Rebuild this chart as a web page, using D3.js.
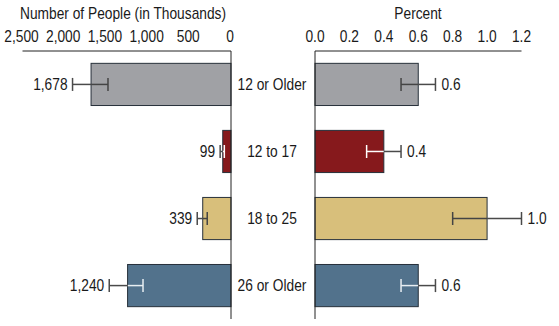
<!DOCTYPE html>
<html>
<head>
<meta charset="utf-8">
<script src="https://cdn.jsdelivr.net/npm/d3@7"></script>
<style>
  html, body { margin: 0; padding: 0; background: #fff; }
  svg text { font-family: "Liberation Sans", Arial, sans-serif; font-size: 16px; fill: #1a1a1a; }
</style>
</head>
<body>
<svg id="chart" width="559" height="326"></svg>
<script>
// Age groups shown as rows
const categories = ["12 or Older", "12 to 17", "18 to 25", "26 or Older"];
// Number of people (thousands) with confidence interval bounds
const counts = [1678, 99, 339, 1240];
const countLow = [1475, 80, 285, 1055];
const countHigh = [1900, 130, 405, 1460];
// Percent of population with confidence interval bounds
const percents = [0.6, 0.4, 1.0, 0.6];
const percentLow = [0.5, 0.3, 0.8, 0.5];
const percentHigh = [0.7, 0.5, 1.2, 0.7];
// Tick values
const countTicks = [0, 500, 1000, 1500, 2000, 2500];
const percentTicks = [0, 0.2, 0.4, 0.6, 0.8, 1.0, 1.2];

const barColors = ["#A0A1A5", "#86191C", "#D8BF7B", "#52728C"];
const innerErrColors = ["#444", "#fff", "#444", "#e8eef2"];

const svg = d3.select("#chart");
const axisTop = 51, axisBottom = 319;
const squeeze = 0.86; // condensed lettering

// Text drawn with a horizontal squeeze around its anchor point
function label(g, x, yPos, str, anchor, dy) {
  return g.append("text")
    .attr("transform", `translate(${x},${yPos}) scale(${squeeze},1)`)
    .attr("text-anchor", anchor || "middle")
    .attr("dy", dy || 0)
    .text(str);
}

const y = d3.scaleBand().domain(categories).range([axisTop, axisBottom])
  .paddingInner(0.371).paddingOuter(0.184);

const xL = d3.scaleLinear().domain([0, 2500]).range([231, 22.5]);
const xR = d3.scaleLinear().domain([0, 1.2]).range([315, 521.5]);

const fmtCount = d3.format(",");
const fmtPct = d3.format(".1f");

// Titles
label(svg, 123, 18.5, "Number of People (in Thousands)");
label(svg, 418, 18.5, "Percent");

// Tick labels
const tg = svg.append("g");
countTicks.forEach(d => label(tg, xL(d) - 1, 41.5, fmtCount(d)));
percentTicks.forEach(d => label(tg, xR(d), 41.5, fmtPct(d)));

// Bars
const rows = categories.map((c, i) => ({c, i}));
svg.append("g").selectAll("rect").data(rows).join("rect")
  .attr("x", d => xL(counts[d.i])).attr("y", d => y(d.c))
  .attr("width", d => xL(0) - xL(counts[d.i])).attr("height", y.bandwidth())
  .attr("fill", d => barColors[d.i]).attr("stroke", "#27303a").attr("stroke-width", 1);
svg.append("g").selectAll("rect").data(rows).join("rect")
  .attr("x", xR(0)).attr("y", d => y(d.c))
  .attr("width", d => xR(percents[d.i]) - xR(0)).attr("height", y.bandwidth())
  .attr("fill", d => barColors[d.i]).attr("stroke", "#27303a").attr("stroke-width", 1);

// Error bars: part inside the bar and part outside
function errorBar(g, x, v, lo, hi, i, cy) {
  const capH = 6.5;
  const inner = innerErrColors[i], outer = "#4a4a4a";
  g.append("line").attr("x1", x(lo)).attr("x2", x(v)).attr("y1", cy).attr("y2", cy)
    .attr("stroke", inner).attr("stroke-width", 1.5);
  g.append("line").attr("x1", x(v)).attr("x2", x(hi)).attr("y1", cy).attr("y2", cy)
    .attr("stroke", outer).attr("stroke-width", 1.5);
  g.append("line").attr("x1", x(lo)).attr("x2", x(lo)).attr("y1", cy - capH).attr("y2", cy + capH)
    .attr("stroke", inner).attr("stroke-width", 1.5);
  g.append("line").attr("x1", x(hi)).attr("x2", x(hi)).attr("y1", cy - capH).attr("y2", cy + capH)
    .attr("stroke", outer).attr("stroke-width", 1.5);
}
const eg = svg.append("g");
rows.forEach(d => {
  const cy = y(d.c) + y.bandwidth() / 2;
  errorBar(eg, xL, counts[d.i], countLow[d.i], countHigh[d.i], d.i, cy);
  errorBar(eg, xR, percents[d.i], percentLow[d.i], percentHigh[d.i], d.i, cy);
});

// Value labels and category labels
const lg = svg.append("g");
rows.forEach(d => {
  const cy = y(d.c) + y.bandwidth() / 2;
  label(lg, xL(countHigh[d.i]) - 5, cy, fmtCount(counts[d.i]), "end", "0.35em");
  label(lg, xR(percentHigh[d.i]) + 6, cy, fmtPct(percents[d.i]), "start", "0.35em");
  label(lg, 272, cy, d.c, "middle", "0.35em");
});

// Axis lines
const axisG = svg.append("g").attr("stroke", "#222").attr("stroke-width", 1).attr("fill", "none");
axisG.append("path").attr("d", `M${xL(2500)},${axisTop}H${xL(0)}V${axisBottom}`);
axisG.append("path").attr("d", `M${xR(1.2)},${axisTop}H${xR(0)}V${axisBottom}`);
</script>
</body>
</html>
